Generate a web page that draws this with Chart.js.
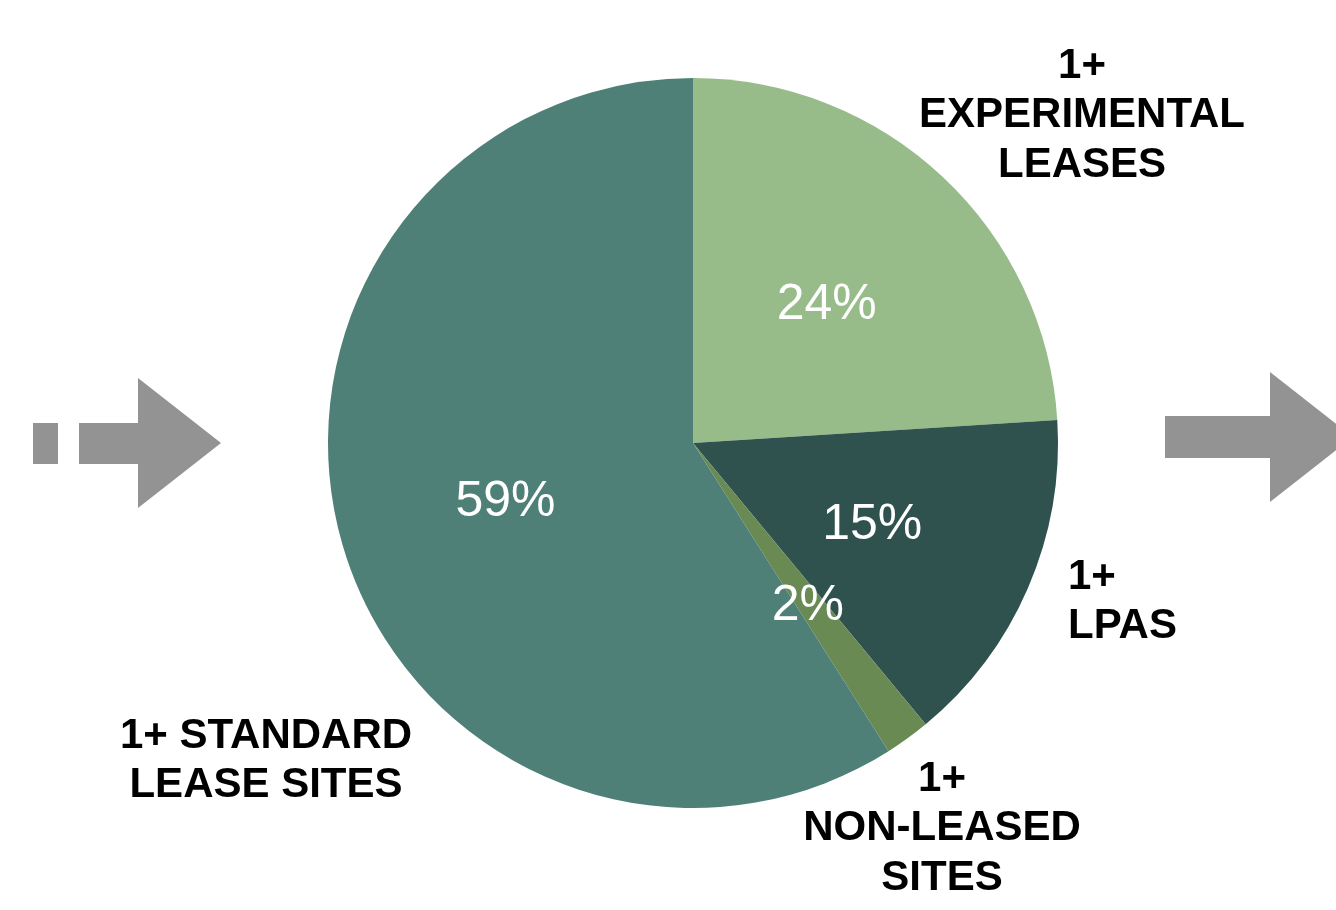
<!DOCTYPE html>
<html>
<head>
<meta charset="utf-8">
<script src="https://cdn.jsdelivr.net/npm/chart.js@4"></script>
<style>
  html, body { margin: 0; padding: 0; background: #ffffff; }
  #wrap { width: 1336px; height: 910px; }
</style>
</head>
<body>
<div id="wrap"><canvas id="pie" width="1336" height="910"></canvas></div>
<script>
// Share of sites by lease type (percent)
const categories = ['1+ EXPERIMENTAL LEASES', '1+ LPAS', '1+ NON-LEASED SITES', '1+ STANDARD LEASE SITES'];
const shares = [24, 15, 2, 59];
const sliceColors = ['#97bc89', '#30524e', '#6a8a54', '#4e8077'];

// outside caption lines, one entry per category
const captionLines = [
    ['1+', 'EXPERIMENTAL', 'LEASES'],
    ['1+', 'LPAS'],
    ['1+', 'NON-LEASED', 'SITES'],
    ['1+ STANDARD', 'LEASE SITES']
];
// caption anchor (x, first line y, alignment)
const captionPlaces = [
    { x: 1082, y: 66, align: 'center' },
    { x: 1068, y: 577, align: 'left' },
    { x: 942, y: 779, align: 'center' },
    { x: 266, y: 736, align: 'center' }
];

const FONT = '"Liberation Sans", Helvetica, Arial, sans-serif';

// grey flow arrows on both sides of the pie
const arrowsPlugin = {
    id: 'arrows',
    beforeDraw(chart) {
        const c = chart.ctx;
        c.save();
        c.fillStyle = '#939393';
        // left: dash + arrow
        c.fillRect(33, 423, 25, 41);
        c.beginPath();
        c.moveTo(79, 423);
        c.lineTo(138, 423);
        c.lineTo(138, 378);
        c.lineTo(221, 443);
        c.lineTo(138, 508);
        c.lineTo(138, 464);
        c.lineTo(79, 464);
        c.closePath();
        c.fill();
        // right arrow (tip cut off by the edge)
        c.beginPath();
        c.moveTo(1165, 416);
        c.lineTo(1270, 416);
        c.lineTo(1270, 372);
        c.lineTo(1353, 437);
        c.lineTo(1270, 502);
        c.lineTo(1270, 458);
        c.lineTo(1165, 458);
        c.closePath();
        c.fill();
        c.restore();
    }
};

// percentage labels inside slices and captions outside
const labelsPlugin = {
    id: 'sliceLabels',
    afterDatasetsDraw(chart) {
        const c = chart.ctx;
        const meta = chart.getDatasetMeta(0);
        c.save();
        c.fillStyle = '#ffffff';
        c.font = '50px ' + FONT;
        c.textAlign = 'center';
        c.textBaseline = 'middle';
        meta.data.forEach((arc, i) => {
            const p = arc.getProps(['x', 'y', 'startAngle', 'endAngle', 'outerRadius'], true);
            const mid = (p.startAngle + p.endAngle) / 2;
            const r = p.outerRadius * 0.535;
            c.fillText(shares[i] + '%', p.x + Math.cos(mid) * r, p.y + Math.sin(mid) * r + 5);
        });

        c.fillStyle = '#000000';
        c.font = 'bold 42px ' + FONT;
        captionLines.forEach((lines, i) => {
            const place = captionPlaces[i];
            c.textAlign = place.align;
            lines.forEach((line, j) => {
                c.fillText(line, place.x, place.y + j * 49.5);
            });
        });
        c.restore();
    }
};

new Chart(document.getElementById('pie'), {
    type: 'pie',
    data: {
        labels: categories,
        datasets: [{
            data: shares,
            backgroundColor: sliceColors,
            borderWidth: 0
        }]
    },
    options: {
        responsive: false,
        animation: false,
        layout: {
            padding: { top: 78, bottom: 102, left: 100, right: 50 }
        },
        plugins: {
            legend: { display: false },
            tooltip: { enabled: false }
        }
    },
    plugins: [arrowsPlugin, labelsPlugin]
});
</script>
</body>
</html>
